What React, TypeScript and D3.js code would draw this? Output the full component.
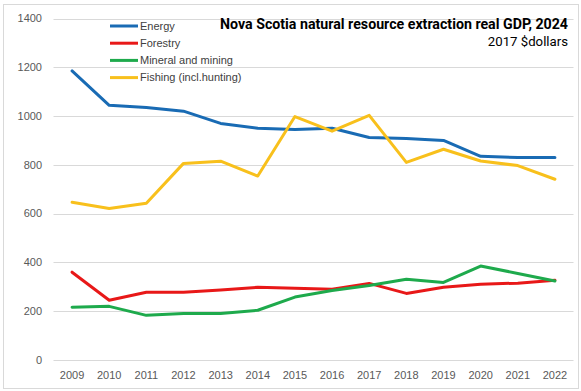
import React from "react";
import * as d3 from "d3";

const years = ["2009","2010","2011","2012","2013","2014","2015","2016","2017","2018","2019","2020","2021","2022"];
const energy = [1185, 1044, 1035, 1020, 970, 950, 945, 950, 912, 908, 900, 835, 830, 830];
const forestry = [360, 245, 278, 278, 287, 298, 294, 290, 314, 273, 298, 311, 315, 327];
const mineral = [216, 220, 183, 191, 191, 204, 258, 285, 305, 331, 318, 385, 355, 324];
const fishing = [647, 621, 643, 806, 815, 754, 998, 938, 1003, 810, 864, 816, 797, 741];
const yTicks = [0, 200, 400, 600, 800, 1000, 1200, 1400];

const seriesNames = ["Energy", "Forestry", "Mineral and mining", "Fishing (incl.hunting)"];
const seriesColors = ["#196BB4", "#E81818", "#1EAA4C", "#F8C01C"];
const seriesData = [energy, forestry, mineral, fishing];

export default function App() {
  const W = 581, H = 391;
  const left = 53.5, right = 573.5, top = 18.5, bottom = 360;
  const x = d3.scaleBand<string>().domain(years).range([left, right]);
  const y = d3.scaleLinear().domain([0, 1400]).range([bottom, top]);
  const line = d3.line<number>()
    .x((_, i) => (x(years[i]) as number) + x.bandwidth() / 2)
    .y((d) => y(d));
  const font = "'Liberation Sans', Arial, sans-serif";
  return (
    <svg width={W} height={H} style={{ position: "absolute", left: 0, top: 0 }} fontFamily={font}>
      <rect x={0} y={0} width={W} height={H} fill="#fff" />
      <rect x={3.5} y={4.5} width={575} height={384} fill="none" stroke="#d9d9d9" />
      {yTicks.map((t) => (
        <g key={t}>
          <line x1={left} x2={right} y1={Math.round(y(t)) + 0.5} y2={Math.round(y(t)) + 0.5} stroke="#d9d9d9" strokeWidth={1} />
          <text x={42} y={y(t)} dy="0.35em" textAnchor="end" fontSize={11} fill="#595959">{t}</text>
        </g>
      ))}
      {years.map((yr) => (
        <text key={yr} x={(x(yr) as number) + x.bandwidth() / 2} y={375} dy="0.35em" textAnchor="middle" fontSize={11} fill="#595959">{yr}</text>
      ))}
      {seriesData.map((d, i) => (
        <path key={i} d={line(d) || ""} fill="none" stroke={seriesColors[i]} strokeWidth={3} strokeLinejoin="round" strokeLinecap="round" />
      ))}
      {seriesNames.map((n, i) => (
        <g key={n}>
          <line x1={110} x2={138} y1={26 + i * 17.2} y2={26 + i * 17.2} stroke={seriesColors[i]} strokeWidth={3} />
          <text x={140} y={26 + i * 17.2} dy="0.35em" fontSize={11} fill="#404040">{n}</text>
        </g>
      ))}
      <text x={568} y={24} dy="0.35em" textAnchor="end" fontSize={14.2} fontWeight="bold" fill="#000" fontFamily="Roboto, sans-serif">Nova Scotia natural resource extraction real GDP, 2024</text>
      <text x={568} y={41.5} dy="0.35em" textAnchor="end" fontSize={13.2} fill="#000" fontFamily="Roboto, sans-serif">2017 $dollars</text>
    </svg>
  );
}
